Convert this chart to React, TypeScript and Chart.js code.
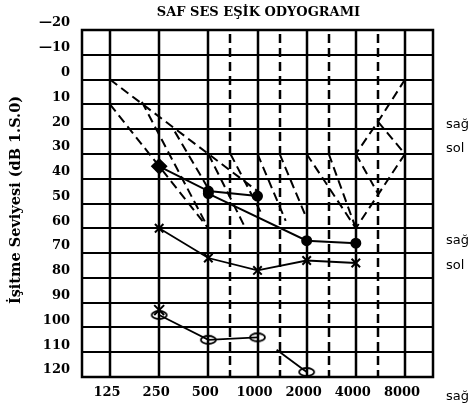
import { useEffect, useRef } from 'react';
import { Chart, registerables } from 'chart.js';

Chart.register(...registerables);

// ---- axis content ----
const freqHz = [125, 250, 500, 1000, 2000, 4000, 8000];
const freqLabels = ['125', '250', '500', '1000', '2000', '4000', '8000'];
const halfOctaveHz = [750, 1500, 3000, 6000];
const dbTicks = [-20, -10, 0, 10, 20, 30, 40, 50, 60, 70, 80, 90, 100, 110, 120];
const titleText = 'SAF SES EŞİK ODYOGRAMI';
const yTitleText = 'İşitme Seviyesi (dB 1.S.0)';
const sideLabels = ['sağ', 'sol', 'sağ', 'sol', 'sağ'];
const sideLabelDb = [18, 28, 65, 75, 128];

// ---- series (Hz, dB HL) ----
const dotHz = [250, 500, 1000];
const dotDb = [35, 45, 47];
const dot2Hz = [500, 2000, 4000];
const dot2Db = [46, 65, 66];
const crossHz = [250, 500, 1000, 2000, 4000];
const crossDb = [60, 72, 77, 73, 74];
const lowHz = [250, 500, 1000];
const lowDb = [95, 105, 104];
const low2Hz = [1420, 2000];
const low2Db = [109, 118];

// ---- dashed hatch traces, each [Hz, dB] ----
const hatch: number[][][] = [
  [[125, 0], [1000, 45]],
  [[125, 10], [250, 35], [500, 60]],
  [[208, 9], [500, 60]],
  [[333, 21], [500, 44]],
  [[500, 30], [880, 60]],
  [[750, 30], [1100, 55]],
  [[1000, 30], [1600, 57]],
  [[1500, 30], [2000, 56]],
  [[2000, 30], [4000, 60]],
  [[3000, 30], [4000, 60]],
  [[4000, 30], [6000, 46]],
  [[8000, 0], [6000, 17], [4000, 30]],
  [[6000, 17], [8000, 30], [4000, 60]],
];

// audiogram position: octaves from 125 Hz, half-octave lines drawn at 0.45 of the octave
const pos = (hz: number) => {
  const o = Math.log2(hz / 125);
  const k = Math.floor(o + 1e-9);
  const f = o - k;
  const m = f <= 0.585 ? (f * 0.45) / 0.585 : 0.45 + ((f - 0.585) * 0.55) / 0.415;
  return k + m;
};

const pts = (hz: number[], db: number[]) => hz.map((h, i) => ({ x: pos(h), y: db[i] }));

const SERIF = '"DejaVu Serif", "Liberation Serif", serif';

function ellipseCanvas(w: number, h: number) {
  const c = document.createElement('canvas');
  c.width = w + 4;
  c.height = h + 4;
  const ctx = c.getContext('2d')!;
  ctx.strokeStyle = '#000';
  ctx.lineWidth = 1.8;
  ctx.beginPath();
  ctx.ellipse(c.width / 2, c.height / 2, w / 2, h / 2, 0, 0, Math.PI * 2);
  ctx.stroke();
  return c;
}

export default function App() {
  const ref = useRef<HTMLCanvasElement>(null);

  useEffect(() => {
    const canvas = ref.current!;
    const ell = ellipseCanvas(15, 8);

    const gridPlugin = {
      id: 'audioGrid',
      beforeDatasetsDraw(chart: any) {
        const { ctx, chartArea, scales } = chart;
        const xs = scales.x;
        const ys = scales.y;
        ctx.save();
        ctx.strokeStyle = '#000';
        ctx.lineWidth = 2;
        ctx.setLineDash([]);
        dbTicks.forEach((v) => {
          const y = Math.round(ys.getPixelForValue(v));
          ctx.beginPath();
          ctx.moveTo(chartArea.left, y);
          ctx.lineTo(chartArea.right, y);
          ctx.stroke();
        });
        ctx.lineWidth = 2.5;
        freqHz.forEach((h) => {
          const x = Math.round(xs.getPixelForValue(pos(h)));
          ctx.beginPath();
          ctx.moveTo(x, chartArea.top);
          ctx.lineTo(x, chartArea.bottom);
          ctx.stroke();
        });
        ctx.setLineDash([9, 5]);
        halfOctaveHz.forEach((h) => {
          const x = Math.round(xs.getPixelForValue(pos(h)));
          ctx.beginPath();
          ctx.moveTo(x, chartArea.top + 4);
          ctx.lineTo(x, chartArea.bottom);
          ctx.stroke();
        });
        ctx.setLineDash([]);
        ctx.lineWidth = 2.5;
        ctx.strokeRect(chartArea.left, chartArea.top, chartArea.right - chartArea.left, chartArea.bottom - chartArea.top);
        ctx.restore();
      },
      afterDraw(chart: any) {
        const { ctx, chartArea, scales } = chart;
        ctx.save();
        ctx.fillStyle = '#000';
        ctx.font = `bold 13px ${SERIF}`;
        ctx.textAlign = 'center';
        ctx.textBaseline = 'middle';
        ctx.fillText(titleText, (chartArea.left + chartArea.right) / 2 + 1, 13);
        ctx.save();
        ctx.translate(16, 200);
        ctx.rotate(-Math.PI / 2);
        ctx.font = `bold 14.5px ${SERIF}`;
        ctx.fillText(yTitleText, 0, 0);
        ctx.restore();
        ctx.font = '13px "DejaVu Sans", "Liberation Sans", sans-serif';
        ctx.textAlign = 'left';
        sideLabels.forEach((t, i) => {
          ctx.fillText(t, 446, scales.y.getPixelForValue(sideLabelDb[i]));
        });
        ctx.restore();
      },
    };

    const lineDs = (data: any[], extra: any = {}) => ({
      data,
      showLine: true,
      borderColor: '#000',
      backgroundColor: '#000',
      borderWidth: 2,
      pointRadius: 0,
      ...extra,
    });

    const datasets: any[] = [];
    hatch.forEach((seg) => {
      datasets.push(
        lineDs(
          seg.map(([h, d]) => ({ x: pos(h), y: d })),
          { borderDash: [9, 5], borderWidth: 2 }
        )
      );
    });
    datasets.push(
      lineDs(pts(dotHz, dotDb), {
        pointRadius: [7, 4.5, 4.5],
        pointStyle: ['rectRot', 'circle', 'circle'],
      })
    );
    datasets.push(lineDs(pts(dot2Hz, dot2Db), { pointRadius: 4.5, pointStyle: 'circle' }));
    datasets.push(
      lineDs(pts(crossHz, crossDb), {
        pointRadius: 6,
        pointStyle: 'crossRot',
        pointBorderWidth: 2,
        borderWidth: 1.8,
      })
    );
    datasets.push(
      lineDs(pts(lowHz, lowDb), {
        pointStyle: [ell, ell, ell],
        pointRadius: 6,
        borderWidth: 1.8,
      })
    );
    datasets.push(
      lineDs(pts([250], [93]), {
        showLine: false,
        pointRadius: 7,
        pointStyle: 'crossRot',
        pointBorderWidth: 2,
      })
    );
    datasets.push(
      lineDs(pts(low2Hz, low2Db), {
        pointStyle: [false, ell],
        pointRadius: [0, 6],
        borderWidth: 1.8,
      })
    );

    const chart = new Chart(canvas, {
      type: 'scatter',
      data: { datasets },
      options: {
        animation: false,
        responsive: true,
        maintainAspectRatio: false,
        layout: { padding: { top: 30, right: 41, left: 0, bottom: 0 } },
        plugins: { legend: { display: false }, tooltip: { enabled: false } },
        scales: {
          x: {
            type: 'linear',
            min: -0.57,
            max: 6.57,
            grid: { display: false, drawTicks: false },
            border: { display: false },
            afterBuildTicks: (s: any) => {
              s.ticks = freqHz.map((h) => ({ value: pos(h) }));
            },
            afterFit: (s: any) => {
              s.height = 28;
            },
            ticks: {
              autoSkip: false,
              maxRotation: 0,
              padding: 8,
              labelOffset: -3,
              color: '#000',
              font: { family: SERIF, size: 13, weight: 'bold' },
              callback: (_v: any, i: number) => freqLabels[i],
            },
          },
          y: {
            type: 'linear',
            reverse: true,
            min: -20,
            max: 120,
            grid: { display: false, drawTicks: false },
            border: { display: false },
            afterBuildTicks: (s: any) => {
              s.ticks = dbTicks.map((v) => ({ value: v }));
            },
            afterFit: (s: any) => {
              s.width = 82;
            },
            ticks: {
              autoSkip: false,
              padding: 12,
              labelOffset: -7,
              color: '#000',
              font: { family: SERIF, size: 13, weight: 'bold' },
              callback: (v: any) => (v < 0 ? '—' + Math.abs(v) : String(v)),
            },
          },
        },
      },
      plugins: [gridPlugin],
    });
    return () => chart.destroy();
  }, []);

  return (
    <div style={{ position: 'absolute', left: 0, top: 0, width: 474, height: 405, background: '#fff' }}>
      <canvas ref={ref} />
    </div>
  );
}
